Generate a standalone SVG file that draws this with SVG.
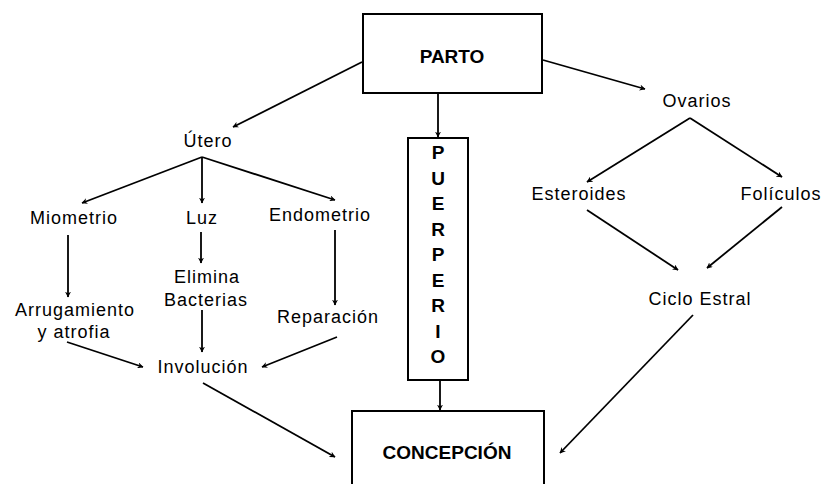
<svg xmlns="http://www.w3.org/2000/svg" width="825" height="484" viewBox="0 0 825 484">
<defs>
<marker id="ah" viewBox="0 0 10 10" refX="9" refY="5" markerWidth="6" markerHeight="6" markerUnits="userSpaceOnUse" orient="auto">
<path d="M0,0 L10,5 L0,10 L3,5 z" fill="#000"/>
</marker>
<style>
.box{fill:#fff;stroke:#000;stroke-width:2}
.t{font-family:"Liberation Sans",Arial,sans-serif;font-size:18px;letter-spacing:1px;fill:#000;text-anchor:middle}
.b{font-family:"Liberation Sans",Arial,sans-serif;font-size:19px;font-weight:bold;fill:#000;text-anchor:middle}
.c{fill:none;stroke:#000;stroke-width:1.8;marker-end:url(#ah)}
</style>
</defs>
<rect width="825" height="484" fill="#fff"/>
<g id="connectors">
<path class="c" d="M362,62 L233,127"/>
<path class="c" d="M543,60 L645,89"/>
<path class="c" d="M438,93 L438,137"/>
<path class="c" d="M440,380 L440,410"/>
<path class="c" d="M202,157 L82,203"/>
<path class="c" d="M202,157 L202,203"/>
<path class="c" d="M202,157 L335,200"/>
<path class="c" d="M68,235 L68,297"/>
<path class="c" d="M201,232 L201,263"/>
<path class="c" d="M335,230 L335,305"/>
<path class="c" d="M202,310 L202,352"/>
<path class="c" d="M67,342 L143,367"/>
<path class="c" d="M337,337 L262,367"/>
<path class="c" d="M203,383 L335,457"/>
<path class="c" d="M690,118 L587,182"/>
<path class="c" d="M690,118 L782,177"/>
<path class="c" d="M587,210 L678,270"/>
<path class="c" d="M782,207 L707,268"/>
<path class="c" d="M693,315 L560,453"/>
</g>
<g id="parto">
<rect class="box" x="363" y="14" width="179" height="79"/>
<text class="b" x="452" y="63">PARTO</text>
</g>
<g id="puerperio">
<rect class="box" x="408" y="138" width="60" height="242"/>
<text class="b" x="438" y="159">P</text>
<text class="b" x="438" y="185">U</text>
<text class="b" x="438" y="210">E</text>
<text class="b" x="438" y="236">R</text>
<text class="b" x="438" y="261">P</text>
<text class="b" x="438" y="287">E</text>
<text class="b" x="438" y="312">R</text>
<text class="b" x="438" y="338">I</text>
<text class="b" x="438" y="363">O</text>
</g>
<g id="concepcion">
<rect class="box" x="352" y="411" width="192" height="90"/>
<text class="b" x="447" y="459">CONCEPCIÓN</text>
</g>
<g id="utero"><text class="t" x="208" y="147">Útero</text></g>
<g id="miometrio"><text class="t" x="74" y="224">Miometrio</text></g>
<g id="luz"><text class="t" x="202" y="224">Luz</text></g>
<g id="endometrio"><text class="t" x="320" y="221">Endometrio</text></g>
<g id="elimina"><text class="t" x="207" y="283">Elimina</text><text class="t" x="206" y="306">Bacterias</text></g>
<g id="arrugamiento"><text class="t" x="75" y="316">Arrugamiento</text><text class="t" x="74" y="338">y atrofia</text></g>
<g id="reparacion"><text class="t" x="328" y="323">Reparación</text></g>
<g id="involucion"><text class="t" x="203" y="373">Involución</text></g>
<g id="ovarios"><text class="t" x="697" y="107">Ovarios</text></g>
<g id="esteroides"><text class="t" x="579" y="200">Esteroides</text></g>
<g id="foliculos"><text class="t" x="781" y="200">Folículos</text></g>
<g id="ciclo"><text class="t" x="700" y="305">Ciclo Estral</text></g>
</svg>
